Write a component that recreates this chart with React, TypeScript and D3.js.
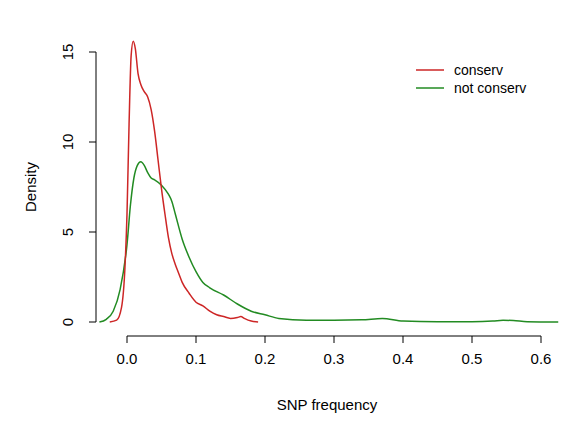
import React from "react";
import * as d3 from "d3";

const conservX = [-0.025,-0.015,-0.008,-0.003,0.0,0.003,0.006,0.009,0.012,0.016,0.02,0.025,0.03,0.035,0.04,0.045,0.05,0.055,0.06,0.065,0.07,0.075,0.08,0.09,0.1,0.11,0.12,0.13,0.14,0.15,0.16,0.165,0.17,0.18,0.19];
const conservY = [0,0.1,0.8,3,6,11,14.8,15.6,15.2,13.8,13.2,12.8,12.5,11.8,10.6,9.0,7.4,6.0,4.7,3.8,3.2,2.7,2.2,1.6,1.1,0.9,0.6,0.4,0.3,0.2,0.25,0.3,0.2,0.05,0];
const notX = [-0.04,-0.03,-0.02,-0.01,0.0,0.005,0.01,0.015,0.02,0.025,0.03,0.035,0.04,0.05,0.06,0.065,0.07,0.08,0.09,0.1,0.11,0.12,0.14,0.16,0.18,0.2,0.22,0.26,0.3,0.34,0.37,0.4,0.45,0.5,0.53,0.545,0.56,0.58,0.625];
const notY = [0,0.15,0.6,1.8,4.3,6.5,8.0,8.7,8.9,8.7,8.3,8.0,7.9,7.6,7.1,6.7,6.0,4.6,3.6,2.8,2.2,1.9,1.5,1.0,0.6,0.4,0.2,0.1,0.1,0.12,0.2,0.05,0.02,0.02,0.05,0.1,0.08,0.02,0];
const xTicks = [0, 0.1, 0.2, 0.3, 0.4, 0.5, 0.6];
const yTicks = [0, 5, 10, 15];

export default function App() {
  const x = d3.scaleLinear().domain([0, 0.6]).range([127, 541]);
  const y = d3.scaleLinear().domain([0, 15]).range([322, 52]);
  const line = d3.line<number>().curve(d3.curveMonotoneX);
  const mk = (xs: number[], ys: number[]) =>
    line(xs.map((v, i) => [x(v), y(ys[i])] as any) as any) as string;
  const font = "Liberation Sans, Arial, sans-serif";
  return (
    <svg width={587} height={430} style={{ position: "absolute", left: 0, top: 0 }} fontFamily={font}>
      <rect width={587} height={430} fill="white" />
      <line x1={x(0)} x2={x(0.6)} y1={336} y2={336} stroke="#000" />
      {xTicks.map(t => (
        <g key={t}>
          <line x1={x(t)} x2={x(t)} y1={336} y2={343} stroke="#000" />
          <text x={x(t)} y={364} textAnchor="middle" fontSize={15}>{t.toFixed(1)}</text>
        </g>
      ))}
      <line x1={96} x2={96} y1={y(0)} y2={y(15)} stroke="#000" />
      {yTicks.map(t => (
        <g key={t}>
          <line x1={89} x2={96} y1={y(t)} y2={y(t)} stroke="#000" />
          <text transform={`translate(73,${y(t)}) rotate(-90)`} textAnchor="middle" fontSize={15}>{t}</text>
        </g>
      ))}
      <text x={327} y={410} textAnchor="middle" fontSize={15}>SNP frequency</text>
      <text transform="translate(36,187) rotate(-90)" textAnchor="middle" fontSize={15}>Density</text>
      <path d={mk(notX, notY)} fill="none" stroke="#228B22" strokeWidth={1.5} />
      <path d={mk(conservX, conservY)} fill="none" stroke="#CD2626" strokeWidth={1.5} />
      <line x1={416} x2={444} y1={70} y2={70} stroke="#CD2626" strokeWidth={1.5} />
      <text x={454} y={75} fontSize={14}>conserv</text>
      <line x1={416} x2={444} y1={88} y2={88} stroke="#228B22" strokeWidth={1.5} />
      <text x={454} y={93} fontSize={14}>not conserv</text>
    </svg>
  );
}
